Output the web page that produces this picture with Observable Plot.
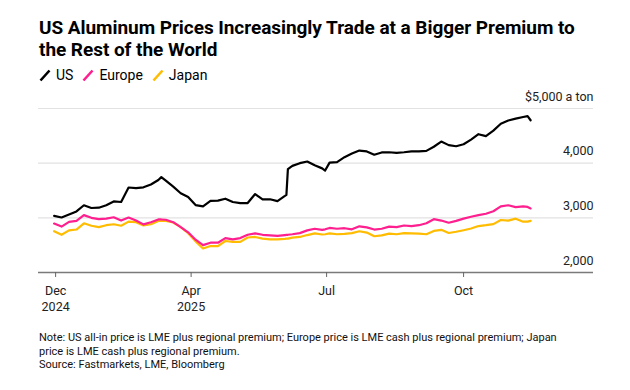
<!DOCTYPE html>
<html><head><meta charset="utf-8">
<script src="https://cdn.jsdelivr.net/npm/d3@7"></script>
<script src="https://cdn.jsdelivr.net/npm/@observablehq/plot@0.6"></script>
<style>
body{margin:0;background:#fff;font-family:Roboto,"Liberation Sans",Arial,sans-serif;color:#000;}
#wrap{position:relative;width:630px;height:390px;overflow:hidden;}
#title{position:absolute;left:39px;top:17px;font-weight:700;font-size:19px;line-height:22px;letter-spacing:-0.05px;white-space:nowrap;}
#legend{position:absolute;left:39px;top:67px;font-size:14px;line-height:16px;display:flex;align-items:center;white-space:nowrap;}
.item{display:flex;align-items:center;margin-right:9px;}
.item svg{margin-right:5px;}
#chart{position:absolute;left:0;top:86px;}
#note{position:absolute;left:39px;top:331px;font-size:11px;line-height:13.5px;color:#111;white-space:nowrap;}
</style>
</head><body>
<div id="wrap">
  <div id="title">US Aluminum Prices Increasingly Trade at a Bigger Premium to<br>the Rest of the World</div>
  <div id="legend"></div>
  <div id="chart"></div>
  <div id="note">Note: US all-in price is LME plus regional premium; Europe price is LME cash plus regional premium; Japan<br>price is LME cash plus regional premium.<br>Source: Fastmarkets, LME, Bloomberg</div>
</div>
<script>
const dates = ["2024-12-30","2025-01-04","2025-01-09","2025-01-14","2025-01-19","2025-01-24","2025-01-29","2025-02-03","2025-02-08","2025-02-13","2025-02-18","2025-02-23","2025-02-28","2025-03-05","2025-03-10","2025-03-12","2025-03-15","2025-03-20","2025-03-25","2025-03-30","2025-04-04","2025-04-09","2025-04-14","2025-04-19","2025-04-24","2025-04-29","2025-05-04","2025-05-09","2025-05-14","2025-05-19","2025-05-24","2025-05-29","2025-06-03","2025-06-04","2025-06-05","2025-06-08","2025-06-13","2025-06-18","2025-06-23","2025-06-28","2025-06-30","2025-07-03","2025-07-08","2025-07-13","2025-07-18","2025-07-23","2025-07-28","2025-08-02","2025-08-07","2025-08-12","2025-08-17","2025-08-22","2025-08-27","2025-09-01","2025-09-06","2025-09-11","2025-09-16","2025-09-21","2025-09-26","2025-10-01","2025-10-06","2025-10-11","2025-10-16","2025-10-21","2025-10-26","2025-10-31","2025-11-05","2025-11-10","2025-11-13","2025-11-15"];
const us = [3036,3006,3060,3117,3230,3180,3185,3230,3300,3290,3555,3545,3558,3610,3693,3745,3680,3570,3450,3380,3233,3210,3310,3315,3350,3290,3270,3270,3435,3338,3340,3305,3400,3420,3890,3950,4000,4030,3960,3905,3865,4010,4020,4110,4175,4230,4215,4155,4196,4200,4190,4200,4215,4215,4225,4300,4395,4330,4310,4345,4430,4530,4495,4595,4720,4780,4815,4845,4860,4785];
const europe = [2896,2840,2926,2944,3049,3000,2975,2985,3010,2950,3005,2950,2880,2920,2970,2970,2965,2920,2830,2735,2600,2500,2545,2545,2630,2605,2630,2690,2715,2690,2680,2670,2685,2688,2690,2700,2720,2770,2800,2780,2790,2815,2800,2810,2790,2845,2825,2786,2800,2840,2830,2860,2850,2865,2900,2975,2950,2910,2945,2985,3020,3050,3075,3120,3210,3230,3195,3210,3200,3172];
const japan = [2755,2690,2770,2786,2900,2855,2830,2865,2883,2855,2930,2920,2860,2883,2944,2944,2944,2915,2830,2720,2570,2440,2484,2484,2576,2560,2560,2640,2650,2620,2607,2605,2615,2618,2620,2638,2650,2685,2715,2695,2700,2715,2700,2705,2720,2755,2730,2663,2680,2712,2700,2720,2715,2710,2700,2760,2780,2723,2745,2773,2804,2850,2865,2885,2960,2950,2985,2930,2930,2944];

const seriesNames = ["US","Europe","Japan"];
const seriesColors = ["#000000","#ff1f8e","#ffbc00"];
const tickDates = ["2024-12-31","2025-04-01","2025-07-01","2025-10-01"];
const tickLabels = ["Dec\n2024","Apr\n2025","Jul","Oct"];
const yTicks = [2000,3000,4000,5000];
const yTickLabels = ["2,000","3,000","4,000","$5,000 a ton"];

const parse = s => new Date(s + "T00:00:00Z");
const valuesBySeries = {US: us, Europe: europe, Japan: japan};
const rows = [];
for (const name of ["Japan","Europe","US"]) {
  valuesBySeries[name].forEach((v, i) => rows.push({date: parse(dates[i]), value: v, series: name}));
}
const labelMap = new Map(tickDates.map((d, i) => [+parse(d), tickLabels[i]]));
const yLabelMap = new Map(yTicks.map((d, i) => [d, yTickLabels[i]]));

// legend
const legend = document.getElementById("legend");
seriesNames.forEach((n, i) => {
  const item = document.createElement("div");
  item.className = "item";
  item.innerHTML = `<svg width="12" height="13"><line x1="1.5" y1="11.5" x2="10.5" y2="1.5" stroke="${seriesColors[i]}" stroke-width="2.6"/></svg><span>${n}</span>`;
  legend.appendChild(item);
});

const chart = Plot.plot({
  width: 630,
  height: 230,
  marginLeft: 38,
  marginRight: 37,
  marginTop: 22,
  marginBottom: 44,
  style: {fontFamily: "Roboto, 'Liberation Sans', Arial, sans-serif", color: "#222", background: "#fff"},
  x: {type: "utc", domain: [new Date("2024-12-19T12:00:00Z"), new Date("2025-12-27T06:00:00Z")]},
  y: {domain: [2000, 5000], axis: null},
  color: {domain: seriesNames, range: seriesColors},
  marks: [
    Plot.ruleY(yTicks.filter(d => d > 2000), {stroke: "#e2e2e2", strokeWidth: 1.2}),
    Plot.ruleY([2000], {stroke: "#7a7a7a", strokeWidth: 1.5}),
    Plot.axisX(tickDates.map(parse), {
      tickFormat: d => labelMap.get(+d),
      tickSize: 5, tickPadding: 6, fontSize: 12.5, lineHeight: 1.28,
      stroke: "#666", label: null
    }),
    Plot.line(rows, {x: "date", y: "value", z: "series", stroke: "series", strokeWidth: 2.2, strokeLinejoin: "round"}),
    Plot.text(yTicks, {
      y: d => d, text: d => yLabelMap.get(d),
      frameAnchor: "right", textAnchor: "end", dy: -12, fontSize: 12.5, fill: "#222"
    })
  ]
});
document.getElementById("chart").appendChild(chart);
</script>
</body></html>
